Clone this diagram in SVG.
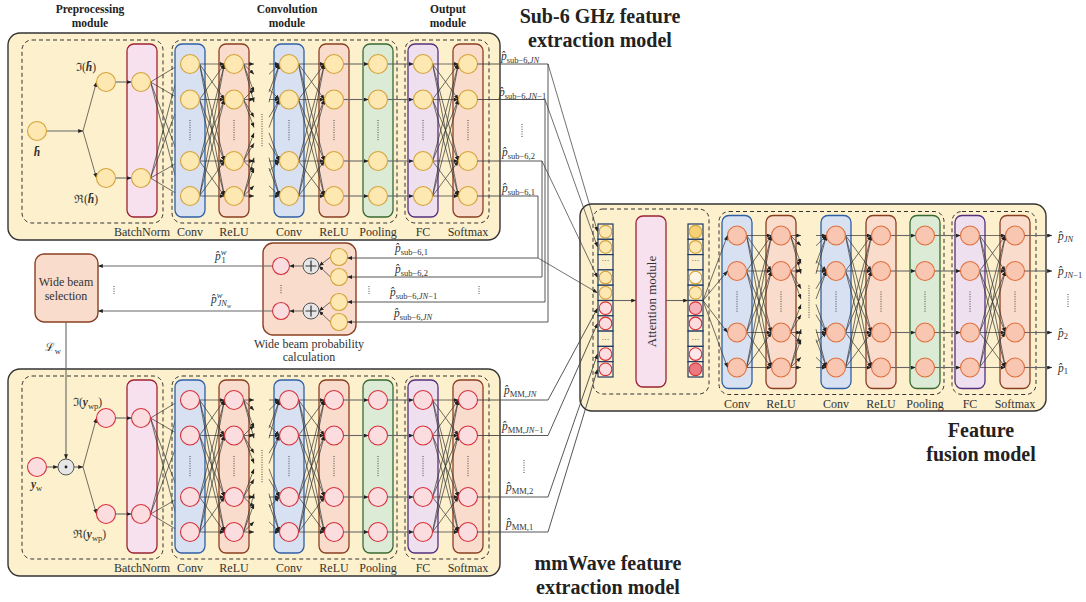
<svg xmlns="http://www.w3.org/2000/svg" width="1086" height="602" viewBox="0 0 1086 602">
<style>
text{font-family:"Liberation Serif","Times New Roman","DejaVu Serif",serif;fill:#333;stroke:none}
.lbl{font-size:12px;text-anchor:middle}
.hd{font-size:11.5px;font-weight:bold;text-anchor:middle;fill:#222}
.tt{font-size:20px;font-weight:bold;text-anchor:middle;fill:#222}
.mod{fill:#fdf0cc;stroke:#333;stroke-width:1.4}
.dash{fill:none;stroke:#333;stroke-width:1;stroke-dasharray:4 3}
.cbn{fill:#f7e1ee;stroke:#9b2335;stroke-width:1.3}
.ccv{fill:#d7e1f2;stroke:#2f5fa7;stroke-width:1.3}
.crl{fill:#f9dccb;stroke:#8b3f22;stroke-width:1.3}
.cpl{fill:#dcebd6;stroke:#386a34;stroke-width:1.3}
.cfc{fill:#efe0f0;stroke:#55307f;stroke-width:1.3}
.n{stroke-width:1.1}
.a{stroke:#333;stroke-width:0.7;fill:none;marker-end:url(#ah)}
.g{stroke:#555;stroke-width:1;fill:none}
.ga{stroke:#666;stroke-width:1.1;fill:none;marker-end:url(#ah)}
.w{stroke:#444;stroke-width:0.9;fill:none;marker-end:url(#ah)}
.dot{stroke:#444;stroke-width:1;stroke-dasharray:1 1.4;fill:none}
.y{fill:#fde8b1;stroke:#d4a23a}
.r{fill:#fbdde0;stroke:#d6303a}
.s{fill:#f9c6b2;stroke:#e0703c}
.cell{fill:#fdf0cc;stroke:#1f3864;stroke-width:1.2}
.box{fill:#f9dccb;stroke:#8b3f22;stroke-width:1.4}
.op{fill:#e6e6e6;stroke:#555;stroke-width:1}
.m{font-size:11.5px}
.sb{font-size:8.5px}
.it{font-style:italic}
</style>
<defs>
<marker id="ah" viewBox="0 0 6 5" refX="6" refY="2.5" markerWidth="5" markerHeight="4" markerUnits="userSpaceOnUse" orient="auto"><path d="M0,0 L6,2.5 L0,5 z" fill="#222"/></marker>
<g id="body">
<rect class="dash" x="172" y="40" width="225" height="183" rx="10"/>
<rect class="dash" x="405" y="40" width="84" height="183" rx="10"/>
<rect class="ccv" x="175" y="44" width="30" height="173" rx="7"/>
<rect class="crl" x="219" y="44" width="30" height="173" rx="7"/>
<rect class="ccv" x="274" y="44" width="30" height="173" rx="7"/>
<rect class="crl" x="319" y="44" width="30" height="173" rx="7"/>
<rect class="cpl" x="363" y="44" width="30" height="173" rx="7"/>
<rect class="cfc" x="408" y="44" width="30" height="173" rx="7"/>
<rect class="crl" x="453" y="44" width="30" height="173" rx="7"/>
<g>
<line class="a" x1="199.5" y1="64" x2="224.5" y2="64"/><line class="a" x1="199.5" y1="64" x2="224.5" y2="99.5"/><line class="a" x1="199.5" y1="64" x2="224.5" y2="161"/><line class="a" x1="199.5" y1="64" x2="224.5" y2="196"/>
<line class="a" x1="199.5" y1="99.5" x2="224.5" y2="64"/><line class="a" x1="199.5" y1="99.5" x2="224.5" y2="99.5"/><line class="a" x1="199.5" y1="99.5" x2="224.5" y2="161"/><line class="a" x1="199.5" y1="99.5" x2="224.5" y2="196"/>
<line class="a" x1="199.5" y1="161" x2="224.5" y2="64"/><line class="a" x1="199.5" y1="161" x2="224.5" y2="99.5"/><line class="a" x1="199.5" y1="161" x2="224.5" y2="161"/><line class="a" x1="199.5" y1="161" x2="224.5" y2="196"/>
<line class="a" x1="199.5" y1="196" x2="224.5" y2="64"/><line class="a" x1="199.5" y1="196" x2="224.5" y2="99.5"/><line class="a" x1="199.5" y1="196" x2="224.5" y2="161"/><line class="a" x1="199.5" y1="196" x2="224.5" y2="196"/>
<line class="a" x1="243.5" y1="64" x2="254" y2="64"/><line class="a" x1="243.5" y1="64" x2="254" y2="74.3"/><line class="a" x1="243.5" y1="64" x2="254" y2="92.1"/><line class="a" x1="243.5" y1="64" x2="254" y2="102.3"/>
<line class="a" x1="243.5" y1="99.5" x2="254" y2="89.2"/><line class="a" x1="243.5" y1="99.5" x2="254" y2="99.5"/><line class="a" x1="243.5" y1="99.5" x2="254" y2="117.3"/><line class="a" x1="243.5" y1="99.5" x2="254" y2="127.5"/>
<line class="a" x1="243.5" y1="161" x2="254" y2="132.9"/><line class="a" x1="243.5" y1="161" x2="254" y2="143.2"/><line class="a" x1="243.5" y1="161" x2="254" y2="161"/><line class="a" x1="243.5" y1="161" x2="254" y2="171.2"/>
<line class="a" x1="243.5" y1="196" x2="254" y2="157.7"/><line class="a" x1="243.5" y1="196" x2="254" y2="168"/><line class="a" x1="243.5" y1="196" x2="254" y2="185.8"/><line class="a" x1="243.5" y1="196" x2="254" y2="196"/>
<line class="a" x1="269" y1="64" x2="279.5" y2="64"/><line class="a" x1="269" y1="74.3" x2="279.5" y2="64"/><line class="a" x1="269" y1="92.1" x2="279.5" y2="64"/><line class="a" x1="269" y1="102.3" x2="279.5" y2="64"/>
<line class="a" x1="269" y1="89.2" x2="279.5" y2="99.5"/><line class="a" x1="269" y1="99.5" x2="279.5" y2="99.5"/><line class="a" x1="269" y1="117.3" x2="279.5" y2="99.5"/><line class="a" x1="269" y1="127.5" x2="279.5" y2="99.5"/>
<line class="a" x1="269" y1="132.9" x2="279.5" y2="161"/><line class="a" x1="269" y1="143.2" x2="279.5" y2="161"/><line class="a" x1="269" y1="161" x2="279.5" y2="161"/><line class="a" x1="269" y1="171.2" x2="279.5" y2="161"/>
<line class="a" x1="269" y1="157.7" x2="279.5" y2="196"/><line class="a" x1="269" y1="168" x2="279.5" y2="196"/><line class="a" x1="269" y1="185.8" x2="279.5" y2="196"/><line class="a" x1="269" y1="196" x2="279.5" y2="196"/>
<line class="a" x1="298.5" y1="64" x2="324.5" y2="64"/><line class="a" x1="298.5" y1="64" x2="324.5" y2="99.5"/><line class="a" x1="298.5" y1="64" x2="324.5" y2="161"/><line class="a" x1="298.5" y1="64" x2="324.5" y2="196"/>
<line class="a" x1="298.5" y1="99.5" x2="324.5" y2="64"/><line class="a" x1="298.5" y1="99.5" x2="324.5" y2="99.5"/><line class="a" x1="298.5" y1="99.5" x2="324.5" y2="161"/><line class="a" x1="298.5" y1="99.5" x2="324.5" y2="196"/>
<line class="a" x1="298.5" y1="161" x2="324.5" y2="64"/><line class="a" x1="298.5" y1="161" x2="324.5" y2="99.5"/><line class="a" x1="298.5" y1="161" x2="324.5" y2="161"/><line class="a" x1="298.5" y1="161" x2="324.5" y2="196"/>
<line class="a" x1="298.5" y1="196" x2="324.5" y2="64"/><line class="a" x1="298.5" y1="196" x2="324.5" y2="99.5"/><line class="a" x1="298.5" y1="196" x2="324.5" y2="161"/><line class="a" x1="298.5" y1="196" x2="324.5" y2="196"/>
<line class="ga" x1="343.5" y1="64" x2="368.5" y2="64"/><line class="ga" x1="343.5" y1="99.5" x2="368.5" y2="99.5"/><line class="ga" x1="343.5" y1="161" x2="368.5" y2="161"/><line class="ga" x1="343.5" y1="196" x2="368.5" y2="196"/>
<line class="ga" x1="387.5" y1="64" x2="413.5" y2="64"/><line class="ga" x1="387.5" y1="99.5" x2="413.5" y2="99.5"/><line class="ga" x1="387.5" y1="161" x2="413.5" y2="161"/><line class="ga" x1="387.5" y1="196" x2="413.5" y2="196"/>
<line class="a" x1="432.5" y1="64" x2="458.5" y2="64"/><line class="a" x1="432.5" y1="64" x2="458.5" y2="99.5"/><line class="a" x1="432.5" y1="64" x2="458.5" y2="161"/><line class="a" x1="432.5" y1="64" x2="458.5" y2="196"/>
<line class="a" x1="432.5" y1="99.5" x2="458.5" y2="64"/><line class="a" x1="432.5" y1="99.5" x2="458.5" y2="99.5"/><line class="a" x1="432.5" y1="99.5" x2="458.5" y2="161"/><line class="a" x1="432.5" y1="99.5" x2="458.5" y2="196"/>
<line class="a" x1="432.5" y1="161" x2="458.5" y2="64"/><line class="a" x1="432.5" y1="161" x2="458.5" y2="99.5"/><line class="a" x1="432.5" y1="161" x2="458.5" y2="161"/><line class="a" x1="432.5" y1="161" x2="458.5" y2="196"/>
<line class="a" x1="432.5" y1="196" x2="458.5" y2="64"/><line class="a" x1="432.5" y1="196" x2="458.5" y2="99.5"/><line class="a" x1="432.5" y1="196" x2="458.5" y2="161"/><line class="a" x1="432.5" y1="196" x2="458.5" y2="196"/>
</g>
<g class="n">
<circle cx="190" cy="64" r="9.5"/><circle cx="190" cy="99.5" r="9.5"/><circle cx="190" cy="161" r="9.5"/><circle cx="190" cy="196" r="9.5"/>
<circle cx="234" cy="64" r="9.5"/><circle cx="234" cy="99.5" r="9.5"/><circle cx="234" cy="161" r="9.5"/><circle cx="234" cy="196" r="9.5"/>
<circle cx="289" cy="64" r="9.5"/><circle cx="289" cy="99.5" r="9.5"/><circle cx="289" cy="161" r="9.5"/><circle cx="289" cy="196" r="9.5"/>
<circle cx="334" cy="64" r="9.5"/><circle cx="334" cy="99.5" r="9.5"/><circle cx="334" cy="161" r="9.5"/><circle cx="334" cy="196" r="9.5"/>
<circle cx="378" cy="64" r="9.5"/><circle cx="378" cy="99.5" r="9.5"/><circle cx="378" cy="161" r="9.5"/><circle cx="378" cy="196" r="9.5"/>
<circle cx="423" cy="64" r="9.5"/><circle cx="423" cy="99.5" r="9.5"/><circle cx="423" cy="161" r="9.5"/><circle cx="423" cy="196" r="9.5"/>
<circle cx="468" cy="64" r="9.5"/><circle cx="468" cy="99.5" r="9.5"/><circle cx="468" cy="161" r="9.5"/><circle cx="468" cy="196" r="9.5"/>
</g>
<path class="dot" d="M190,120 V141 M234,120 V141 M289,120 V141 M334,120 V141 M378,120 V141 M423,120 V141 M468,120 V141 M262,114 V147"/>
<text class="lbl" x="190" y="236">Conv</text><text class="lbl" x="234" y="236">ReLU</text><text class="lbl" x="289" y="236">Conv</text><text class="lbl" x="334" y="236">ReLU</text><text class="lbl" x="378" y="236">Pooling</text><text class="lbl" x="423" y="236">FC</text><text class="lbl" x="468" y="236">Softmax</text>
</g>
<g id="pre">
<rect class="dash" x="22" y="40" width="141" height="183" rx="10"/>
<rect class="cbn" x="127" y="44" width="30" height="173" rx="7"/>
<line class="a" x1="83" y1="131" x2="96.5" y2="82"/><line class="a" x1="83" y1="131" x2="96.5" y2="178"/>
<line class="ga" x1="115.5" y1="82" x2="131.5" y2="82"/><line class="ga" x1="115.5" y1="178" x2="131.5" y2="178"/>
<line class="a" x1="150.5" y1="82" x2="180.5" y2="64"/><line class="a" x1="150.5" y1="82" x2="180.5" y2="99.5"/><line class="a" x1="150.5" y1="82" x2="180.5" y2="161"/><line class="a" x1="150.5" y1="82" x2="180.5" y2="196"/>
<line class="a" x1="150.5" y1="178" x2="180.5" y2="64"/><line class="a" x1="150.5" y1="178" x2="180.5" y2="99.5"/><line class="a" x1="150.5" y1="178" x2="180.5" y2="161"/><line class="a" x1="150.5" y1="178" x2="180.5" y2="196"/>
<g class="n"><circle cx="106" cy="82" r="9.5"/><circle cx="106" cy="178" r="9.5"/><circle cx="141" cy="82" r="9.5"/><circle cx="141" cy="178" r="9.5"/></g>
<text class="lbl" x="142" y="236">BatchNorm</text>
</g>
</defs>

<g id="titles">
<text class="tt" x="600" y="23">Sub-6 GHz feature</text>
<text class="tt" x="600" y="47">extraction model</text>
<text class="tt" x="981" y="437">Feature</text>
<text class="tt" x="981" y="461">fusion model</text>
<text class="tt" x="608" y="570">mmWave feature</text>
<text class="tt" x="608" y="594">extraction model</text>
<text class="hd" x="90" y="13">Preprocessing</text><text class="hd" x="90" y="27">module</text>
<text class="hd" x="287" y="13">Convolution</text><text class="hd" x="287" y="27">module</text>
<text class="hd" x="448" y="13">Output</text><text class="hd" x="448" y="27">module</text>
</g>

<g id="sub6-model">
<rect class="mod" x="8" y="33" width="492" height="207" rx="12"/>
<use href="#pre" class="y"/>
<use href="#body" class="y"/>
<line class="ga" x1="46.5" y1="131" x2="83" y2="131"/>
<circle class="n y" cx="37" cy="131" r="9.5"/>
<text class="m" x="76" y="71">ℑ(<tspan font-weight="bold" class="it">h̄</tspan>)</text>
<text class="m" x="74" y="203">ℜ(<tspan font-weight="bold" class="it">h̄</tspan>)</text>
<text class="m" x="37" y="156" text-anchor="middle" font-weight="bold" font-style="italic">h̄</text>
</g>

<g id="mmwave-model">
<rect class="mod" x="8" y="369" width="492" height="207" rx="12"/>
<use href="#pre" class="r" transform="translate(0,336)"/>
<use href="#body" class="r" transform="translate(0,336)"/>
<line class="ga" x1="46.5" y1="467" x2="58" y2="467"/>
<line class="ga" x1="74" y1="467" x2="83" y2="467"/>
<circle class="n r" cx="37" cy="467" r="9.5"/>
<circle class="op" cx="66" cy="467" r="8"/>
<circle cx="66" cy="467" r="1.4" fill="#222"/>
<text class="m" x="73" y="406">ℑ(<tspan font-weight="bold" class="it">y</tspan><tspan class="sb" dy="2.5">wp</tspan><tspan dy="-2.5">)</tspan></text>
<text class="m" x="73" y="538">ℜ(<tspan font-weight="bold" class="it">y</tspan><tspan class="sb" dy="2.5">wp</tspan><tspan dy="-2.5">)</tspan></text>
<text class="m" x="31" y="488"><tspan font-weight="bold" class="it">y</tspan><tspan class="sb" dy="2.5">w</tspan></text>
</g>

<g id="wide-beam-selection">
<rect class="box" x="35" y="254" width="63" height="68" rx="9"/>
<text class="lbl" x="66" y="286" font-size="12.5">Wide beam</text>
<text class="lbl" x="66" y="300" font-size="12.5">selection</text>
</g>

<g id="wide-beam-prob">
<rect class="box" x="263" y="243" width="93" height="92" rx="10"/>
<line class="a" x1="330.5" y1="257" x2="319" y2="266"/><line class="a" x1="330.5" y1="277" x2="319" y2="266"/>
<line class="a" x1="330.5" y1="302" x2="319" y2="311"/><line class="a" x1="330.5" y1="322" x2="319" y2="311"/>
<line class="a" x1="303" y1="266" x2="289.5" y2="266"/><line class="a" x1="303" y1="311" x2="289.5" y2="311"/>
<g class="n y"><circle cx="339" cy="257" r="8.5"/><circle cx="339" cy="277" r="8.5"/><circle cx="339" cy="302" r="8.5"/><circle cx="339" cy="322" r="8.5"/></g>
<g class="n r"><circle cx="281" cy="266" r="8.5"/><circle cx="281" cy="311" r="8.5"/></g>
<circle class="op" cx="311" cy="266" r="8"/><path d="M305.5,266 H316.5 M311,260.5 V271.5" stroke="#333" stroke-width="1.2"/>
<circle class="op" cx="311" cy="311" r="8"/><path d="M305.5,311 H316.5 M311,305.5 V316.5" stroke="#333" stroke-width="1.2"/>
<path class="dot" d="M281,285 V294"/>
<text class="lbl" x="309" y="348">Wide beam probability</text>
<text class="lbl" x="309" y="361">calculation</text>
</g>

<g id="fusion-model">
<rect class="mod" x="580" y="204" width="466" height="207" rx="12"/>
<rect class="dash" x="593" y="209" width="116" height="185" rx="10"/>
<use href="#body" class="s" transform="translate(547,171.5)"/>
<g id="fusion-input-col">
<rect class="cell" x="598" y="224" width="15" height="15.3"/><rect class="cell" x="598" y="239.3" width="15" height="15.3"/><rect class="cell" x="598" y="254.6" width="15" height="15.3"/><rect class="cell" x="598" y="269.9" width="15" height="15.3"/><rect class="cell" x="598" y="285.2" width="15" height="15.3"/>
<rect class="cell" x="598" y="300.5" width="15" height="15.3"/><rect class="cell" x="598" y="315.8" width="15" height="15.3"/><rect class="cell" x="598" y="331.1" width="15" height="15.3"/><rect class="cell" x="598" y="346.4" width="15" height="15.3"/><rect class="cell" x="598" y="361.7" width="15" height="15.3"/>
<g class="n y"><circle cx="605.5" cy="231.65" r="6.3"/><circle cx="605.5" cy="246.95" r="6.3"/><circle cx="605.5" cy="277.55" r="6.3"/><circle cx="605.5" cy="292.85" r="6.3"/></g>
<g class="n r"><circle cx="605.5" cy="308.15" r="6.3"/><circle cx="605.5" cy="323.45" r="6.3"/><circle cx="605.5" cy="354.05" r="6.3"/><circle cx="605.5" cy="369.35" r="6.3"/></g>
<text x="605.5" y="263" font-size="8" text-anchor="middle">···</text><text x="605.5" y="341.5" font-size="8" text-anchor="middle">···</text>
</g>
<g id="attention-module">
<rect class="cbn" x="636" y="216" width="30" height="171" rx="7"/>
<text transform="translate(655.5,301.5) rotate(-90)" font-size="13" text-anchor="middle">Attention module</text>
</g>
<g id="fusion-output-col">
<rect class="cell" x="688" y="224" width="15" height="15.3"/><rect class="cell" x="688" y="239.3" width="15" height="15.3"/><rect class="cell" x="688" y="254.6" width="15" height="15.3"/><rect class="cell" x="688" y="269.9" width="15" height="15.3"/><rect class="cell" x="688" y="285.2" width="15" height="15.3"/>
<rect class="cell" x="688" y="300.5" width="15" height="15.3"/><rect class="cell" x="688" y="315.8" width="15" height="15.3"/><rect class="cell" x="688" y="331.1" width="15" height="15.3"/><rect class="cell" x="688" y="346.4" width="15" height="15.3"/><rect class="cell" x="688" y="361.7" width="15" height="15.3"/>
<g class="n" stroke="#d4a23a"><circle cx="695.5" cy="231.65" r="6.3" fill="#f7d275"/><circle cx="695.5" cy="246.95" r="6.3" fill="#fde8b1"/><circle cx="695.5" cy="277.55" r="6.3" fill="#fdf6e4"/><circle cx="695.5" cy="292.85" r="6.3" fill="#fde8b1"/></g>
<g class="n" stroke="#d6303a"><circle cx="695.5" cy="308.15" r="6.3" fill="#f4b3bb"/><circle cx="695.5" cy="323.45" r="6.3" fill="#fbdde0"/><circle cx="695.5" cy="354.05" r="6.3" fill="#fce8ea"/><circle cx="695.5" cy="369.35" r="6.3" fill="#ec7880"/></g>
<text x="695.5" y="263" font-size="8" text-anchor="middle">···</text><text x="695.5" y="341.5" font-size="8" text-anchor="middle">···</text>
</g>
<line class="ga" x1="613" y1="300.5" x2="636" y2="300.5"/>
<line class="ga" x1="666" y1="300.5" x2="688" y2="300.5"/>
<line class="a" x1="703" y1="300.5" x2="727.5" y2="235.5"/><line class="a" x1="703" y1="300.5" x2="727.5" y2="271"/><line class="a" x1="703" y1="300.5" x2="727.5" y2="332.5"/><line class="a" x1="703" y1="300.5" x2="727.5" y2="367.5"/>
<line class="ga" x1="1024.5" y1="235.5" x2="1052" y2="235.5"/><line class="ga" x1="1024.5" y1="271" x2="1052" y2="271"/><line class="ga" x1="1024.5" y1="332.5" x2="1052" y2="332.5"/><line class="ga" x1="1024.5" y1="367.5" x2="1052" y2="367.5"/>
<text class="m" x="1058" y="239.5"><tspan class="it">p̂</tspan><tspan class="sb it" dy="2.5">JN</tspan></text>
<text class="m" x="1058" y="275"><tspan class="it">p̂</tspan><tspan class="sb" dy="2.5"><tspan class="it">JN</tspan>−1</tspan></text>
<text class="m" x="1058" y="336.5"><tspan class="it">p̂</tspan><tspan class="sb" dy="2.5">2</tspan></text>
<text class="m" x="1058" y="371.5"><tspan class="it">p̂</tspan><tspan class="sb" dy="2.5">1</tspan></text>
<path class="dot" d="M1068,294 V308"/>
</g>

<g id="connectors">
<path class="w" d="M477.5,196 H538 V258 H347.5"/>
<path class="w" d="M477.5,161 H542 V277 H347.5"/>
<path class="w" d="M477.5,99.5 H545 V302 H347.5"/>
<path class="w" d="M477.5,64 H548 V322 H347.5"/>
<line class="a" x1="548" y1="64" x2="597.5" y2="231.65"/>
<line class="a" x1="545" y1="99.5" x2="597.5" y2="246.95"/>
<line class="a" x1="542" y1="161" x2="597.5" y2="277.55"/>
<line class="a" x1="538" y1="258" x2="597.5" y2="292.85"/>
<path class="w" d="M477.5,400 H548 L597.5,308.15"/>
<path class="w" d="M477.5,435.5 H548 L597.5,323.45"/>
<path class="w" d="M477.5,497 H548 L597.5,354.05"/>
<path class="w" d="M477.5,532 H548 L597.5,369.35"/>
<line class="ga" x1="272.5" y1="266" x2="98" y2="266"/>
<line class="ga" x1="272.5" y1="311" x2="98" y2="311"/>
<line class="ga" x1="66" y1="322" x2="66" y2="459"/>
<path class="dot" d="M114,286 V294 M369,286 V294 M479,286 V294 M522,124 V137 M524,460 V474"/>
</g>

<g id="connector-labels">
<text class="m" x="501" y="60"><tspan class="it">p̂</tspan><tspan class="sb" dy="2.5">sub−6,<tspan class="it">JN</tspan></tspan></text>
<text class="m" x="499" y="96"><tspan class="it">p̂</tspan><tspan class="sb" dy="2.5">sub−6,<tspan class="it">JN</tspan>−1</tspan></text>
<text class="m" x="502" y="156"><tspan class="it">p̂</tspan><tspan class="sb" dy="2.5">sub−6,2</tspan></text>
<text class="m" x="502" y="192"><tspan class="it">p̂</tspan><tspan class="sb" dy="2.5">sub−6,1</tspan></text>
<text class="m" x="395" y="252"><tspan class="it">p̂</tspan><tspan class="sb" dy="2.5">sub−6,1</tspan></text>
<text class="m" x="395" y="273"><tspan class="it">p̂</tspan><tspan class="sb" dy="2.5">sub−6,2</tspan></text>
<text class="m" x="390" y="296"><tspan class="it">p̂</tspan><tspan class="sb" dy="2.5">sub−6,<tspan class="it">JN</tspan>−1</tspan></text>
<text class="m" x="394" y="317"><tspan class="it">p̂</tspan><tspan class="sb" dy="2.5">sub−6,<tspan class="it">JN</tspan></tspan></text>
<text class="m" x="215" y="260"><tspan class="it">p̂</tspan><tspan class="sb it" dy="-5">w</tspan><tspan class="sb" dx="-5" dy="8">1</tspan></text>
<text class="m" x="211" y="303"><tspan class="it">p̂</tspan><tspan class="sb it" dy="-5">w</tspan><tspan class="sb it" dx="-5" dy="8">JN</tspan><tspan class="it" font-size="6" dy="1.5">w</tspan></text>
<text class="m" x="61" y="351" text-anchor="end" font-size="12.5">ℒ<tspan class="sb" dy="2.5">w</tspan></text>
<text class="m" x="504" y="394"><tspan class="it">p̂</tspan><tspan class="sb" dy="2.5">MM,<tspan class="it">JN</tspan></tspan></text>
<text class="m" x="502" y="430"><tspan class="it">p̂</tspan><tspan class="sb" dy="2.5">MM,<tspan class="it">JN</tspan>−1</tspan></text>
<text class="m" x="506" y="491"><tspan class="it">p̂</tspan><tspan class="sb" dy="2.5">MM,2</tspan></text>
<text class="m" x="506" y="527"><tspan class="it">p̂</tspan><tspan class="sb" dy="2.5">MM,1</tspan></text>
</g>
</svg>
